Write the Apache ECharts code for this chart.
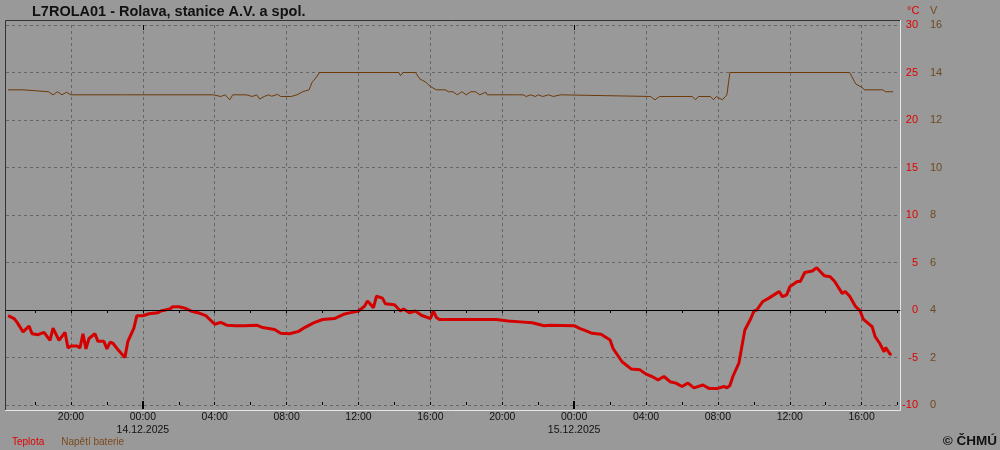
<!DOCTYPE html>
<html>
<head>
<meta charset="utf-8">
<title>L7ROLA01 - Rolava</title>
<script src="https://cdn.jsdelivr.net/npm/echarts@6/dist/echarts.min.js"></script>
<style>
  html, body { margin: 0; padding: 0; background: #999999; }
  #chart { width: 1000px; height: 450px; }
</style>
</head>
<body>
<div id="chart"></div>
<script>
// teplota (°C)
const tempTimes = [
  '2025-12-13 16:30', '2025-12-13 16:50', '2025-12-13 17:00', '2025-12-13 17:20', '2025-12-13 17:40',
  '2025-12-13 17:50', '2025-12-13 18:10', '2025-12-13 18:30', '2025-12-13 18:50', '2025-12-13 19:00',
  '2025-12-13 19:20', '2025-12-13 19:40', '2025-12-13 19:50', '2025-12-13 20:00', '2025-12-13 20:20',
  '2025-12-13 20:30', '2025-12-13 20:40', '2025-12-13 20:50', '2025-12-13 21:00', '2025-12-13 21:20',
  '2025-12-13 21:30', '2025-12-13 21:50', '2025-12-13 22:00', '2025-12-13 22:10', '2025-12-13 22:20',
  '2025-12-13 22:40', '2025-12-13 23:00', '2025-12-13 23:10', '2025-12-13 23:30', '2025-12-13 23:40',
  '2025-12-14 00:00', '2025-12-14 00:20', '2025-12-14 00:50', '2025-12-14 01:00', '2025-12-14 01:30',
  '2025-12-14 01:40', '2025-12-14 02:00', '2025-12-14 02:20', '2025-12-14 02:40', '2025-12-14 03:10',
  '2025-12-14 03:30', '2025-12-14 04:00', '2025-12-14 04:20', '2025-12-14 04:40', '2025-12-14 05:10',
  '2025-12-14 05:40', '2025-12-14 06:20', '2025-12-14 06:40', '2025-12-14 07:20', '2025-12-14 07:40',
  '2025-12-14 08:10', '2025-12-14 08:40', '2025-12-14 09:00', '2025-12-14 09:30', '2025-12-14 10:00',
  '2025-12-14 10:40', '2025-12-14 11:10', '2025-12-14 11:30', '2025-12-14 12:00', '2025-12-14 12:20',
  '2025-12-14 12:30', '2025-12-14 12:50', '2025-12-14 13:00', '2025-12-14 13:20', '2025-12-14 13:30',
  '2025-12-14 14:00', '2025-12-14 14:20', '2025-12-14 14:30', '2025-12-14 14:50', '2025-12-14 15:10',
  '2025-12-14 15:30', '2025-12-14 16:00', '2025-12-14 16:10', '2025-12-14 16:20', '2025-12-14 16:30',
  '2025-12-14 18:00', '2025-12-14 19:40', '2025-12-14 20:20', '2025-12-14 21:00', '2025-12-14 21:40',
  '2025-12-14 22:20', '2025-12-14 22:40', '2025-12-15 00:00', '2025-12-15 00:20', '2025-12-15 00:40',
  '2025-12-15 01:00', '2025-12-15 01:30', '2025-12-15 02:00', '2025-12-15 02:10', '2025-12-15 02:40',
  '2025-12-15 03:10', '2025-12-15 03:40', '2025-12-15 04:00', '2025-12-15 04:20', '2025-12-15 04:40',
  '2025-12-15 05:00', '2025-12-15 05:20', '2025-12-15 05:40', '2025-12-15 06:00', '2025-12-15 06:20',
  '2025-12-15 06:40', '2025-12-15 07:10', '2025-12-15 07:30', '2025-12-15 08:00', '2025-12-15 08:20',
  '2025-12-15 08:30', '2025-12-15 08:40', '2025-12-15 08:50', '2025-12-15 09:10', '2025-12-15 09:20',
  '2025-12-15 09:30', '2025-12-15 09:50', '2025-12-15 10:00', '2025-12-15 10:10', '2025-12-15 10:30',
  '2025-12-15 10:50', '2025-12-15 11:15', '2025-12-15 11:25', '2025-12-15 11:35', '2025-12-15 11:50',
  '2025-12-15 12:00', '2025-12-15 12:25', '2025-12-15 12:35', '2025-12-15 12:50', '2025-12-15 13:15',
  '2025-12-15 13:30', '2025-12-15 13:55', '2025-12-15 14:15', '2025-12-15 14:30', '2025-12-15 14:55',
  '2025-12-15 15:05', '2025-12-15 15:20', '2025-12-15 15:40', '2025-12-15 15:55', '2025-12-15 16:05',
  '2025-12-15 16:35', '2025-12-15 16:45', '2025-12-15 17:00', '2025-12-15 17:15', '2025-12-15 17:20',
  '2025-12-15 17:35', '2025-12-15 17:40'
];
const tempValues = [
  -0.6, -0.9, -1.3, -2.3, -1.7,
  -2.5, -2.6, -2.35, -3.2, -1.9,
  -3.2, -2.35, -4.0, -3.8, -3.8,
  -4.0, -2.5, -4.1, -3.0, -2.5,
  -3.3, -3.3, -4.1, -3.4, -3.5,
  -4.3, -5.0, -3.3, -1.9, -0.6,
  -0.6, -0.4, -0.3, -0.1, 0.1,
  0.35, 0.35, 0.2, -0.1, -0.35,
  -0.6, -1.5, -1.3, -1.6, -1.65,
  -1.65, -1.6, -1.85, -2.05, -2.45,
  -2.5, -2.25, -1.85, -1.35, -1.0,
  -0.9, -0.45, -0.3, -0.1, 0.4,
  0.95, 0.25, 1.45, 1.25, 0.65,
  0.55, -0.1, 0.1, -0.3, -0.1,
  -0.55, -0.9, -0.1, -0.8, -1.0,
  -1.0, -1.0, -1.15, -1.25, -1.35,
  -1.65, -1.6, -1.65, -1.95, -2.2,
  -2.45, -2.55, -3.15, -4.05, -5.45,
  -6.2, -6.3, -6.75, -7.0, -7.35,
  -7.0, -7.55, -7.7, -8.05, -7.7,
  -8.2, -7.9, -8.25, -8.25, -8.05,
  -8.2, -7.95, -7.0, -5.6, -3.85,
  -2.1, -0.9, -0.1, 0.0, 0.9,
  1.25, 1.75, 1.95, 1.4, 1.6,
  2.45, 3.0, 3.0, 3.95, 4.1,
  4.45, 3.6, 3.5, 3.0, 1.75,
  1.95, 1.45, 0.35, -0.1, -0.95,
  -1.75, -2.8, -3.5, -4.4, -3.95,
  -4.65, -4.7
];

// napětí baterie (V)
const voltTimes = [
  '2025-12-13 16:30', '2025-12-13 17:20', '2025-12-13 17:25', '2025-12-13 18:45', '2025-12-13 19:00',
  '2025-12-13 19:15', '2025-12-13 19:30', '2025-12-13 19:45', '2025-12-13 20:00', '2025-12-13 22:30',
  '2025-12-13 22:35', '2025-12-13 22:45', '2025-12-13 23:05', '2025-12-13 23:10', '2025-12-13 23:20',
  '2025-12-14 03:55', '2025-12-14 04:20', '2025-12-14 04:35', '2025-12-14 04:50', '2025-12-14 05:00',
  '2025-12-14 05:45', '2025-12-14 06:05', '2025-12-14 06:20', '2025-12-14 06:30', '2025-12-14 06:45',
  '2025-12-14 07:00', '2025-12-14 07:10', '2025-12-14 07:30', '2025-12-14 07:40', '2025-12-14 08:15',
  '2025-12-14 08:35', '2025-12-14 08:55', '2025-12-14 09:15', '2025-12-14 09:25', '2025-12-14 09:35',
  '2025-12-14 09:50', '2025-12-14 14:15', '2025-12-14 14:20', '2025-12-14 14:30', '2025-12-14 15:10',
  '2025-12-14 15:25', '2025-12-14 15:45', '2025-12-14 16:00', '2025-12-14 16:20', '2025-12-14 16:50',
  '2025-12-14 17:00', '2025-12-14 17:15', '2025-12-14 17:30', '2025-12-14 17:45', '2025-12-14 18:00',
  '2025-12-14 18:15', '2025-12-14 18:30', '2025-12-14 18:45', '2025-12-14 19:05', '2025-12-14 19:10',
  '2025-12-14 20:35', '2025-12-14 20:40', '2025-12-14 20:50', '2025-12-14 21:10', '2025-12-14 21:20',
  '2025-12-14 21:35', '2025-12-14 21:50', '2025-12-14 22:00', '2025-12-14 22:15', '2025-12-14 22:35',
  '2025-12-14 22:50', '2025-12-14 23:15', '2025-12-14 23:20', '2025-12-15 04:15', '2025-12-15 04:30',
  '2025-12-15 04:45', '2025-12-15 06:35', '2025-12-15 06:45', '2025-12-15 06:55', '2025-12-15 07:35',
  '2025-12-15 07:45', '2025-12-15 07:55', '2025-12-15 08:15', '2025-12-15 08:30', '2025-12-15 08:40',
  '2025-12-15 15:20', '2025-12-15 15:40', '2025-12-15 16:00', '2025-12-15 16:10', '2025-12-15 17:10',
  '2025-12-15 17:20', '2025-12-15 17:45'
];
const voltValues = [
  13.27, 13.27, 13.19, 13.19, 13.06,
  13.19, 13.06, 13.17, 13.06, 13.06,
  12.99, 13.06, 13.06, 12.99, 13.06,
  13.06, 12.99, 13.06, 12.85, 13.06,
  13.06, 12.99, 13.06, 12.88, 12.99,
  13.06, 13.0, 13.08, 12.99, 12.99,
  13.06, 13.2, 13.27, 13.59, 13.73,
  14.0, 14.0, 13.87, 14.0, 14.0,
  13.73, 13.59, 13.41, 13.27, 13.27,
  13.19, 13.19, 13.06, 13.19, 13.06,
  13.19, 13.19, 13.06, 13.17, 13.06,
  13.06, 12.99, 13.06, 13.06, 12.99,
  13.06, 12.99, 13.06, 12.99, 13.06,
  12.99, 13.06, 12.99, 12.99, 12.85,
  12.99, 12.99, 12.85, 12.99, 12.99,
  12.85, 12.99, 12.85, 13.06, 14.0,
  14.0, 13.52, 13.38, 13.27, 13.27,
  13.19, 13.19
];

// osa x: rozsah, popisky (po 4 h), značky (po 2 h), půlnoci
const xMin = '2025-12-13 16:23';
const xMax = '2025-12-15 18:08';
const labelTimes = [
  '2025-12-13 20:00', '2025-12-14 00:00', '2025-12-14 04:00', '2025-12-14 08:00',
  '2025-12-14 12:00', '2025-12-14 16:00', '2025-12-14 20:00', '2025-12-15 00:00',
  '2025-12-15 04:00', '2025-12-15 08:00', '2025-12-15 12:00', '2025-12-15 16:00'
];
const tickTimes = [
  '2025-12-13 18:00', '2025-12-13 20:00', '2025-12-13 22:00', '2025-12-14 00:00',
  '2025-12-14 02:00', '2025-12-14 04:00', '2025-12-14 06:00', '2025-12-14 08:00',
  '2025-12-14 10:00', '2025-12-14 12:00', '2025-12-14 14:00', '2025-12-14 16:00',
  '2025-12-14 18:00', '2025-12-14 20:00', '2025-12-14 22:00', '2025-12-15 00:00',
  '2025-12-15 02:00', '2025-12-15 04:00', '2025-12-15 06:00', '2025-12-15 08:00',
  '2025-12-15 10:00', '2025-12-15 12:00', '2025-12-15 14:00', '2025-12-15 16:00',
  '2025-12-15 18:00'
];
const dayTimes = ['2025-12-14 00:00', '2025-12-15 00:00'];

// osy y
const tempMin = -10, tempMax = 30, tempStep = 5;
const voltMin = 0, voltMax = 16, voltStep = 2;

const FONT = 'Liberation Sans, Arial, sans-serif';
const RED = '#d40000';
const BROWN = '#6e3a08';

const ts = s => new Date(s.replace(' ', 'T')).getTime();
const pad = n => String(n).padStart(2, '0');

function fmtLabel(v) {
  const d = new Date(v);
  let s = pad(d.getHours()) + ':' + pad(d.getMinutes());
  if (d.getHours() === 0 && d.getMinutes() === 0) {
    s += '\n' + pad(d.getDate()) + '.' + pad(d.getMonth() + 1) + '.' + d.getFullYear();
  }
  return s;
}

const tempData = tempTimes.map((t, i) => [ts(t), tempValues[i]]);
const voltData = voltTimes.map((t, i) => [ts(t), voltValues[i]]);
const labelVals = labelTimes.map(ts);
const tickVals = tickTimes.map(ts);
const dayVals = dayTimes.map(ts);

const chart = echarts.init(document.getElementById('chart'));

// osa x jako číselná (ms), popisky přes formatter
const xBase = { type: 'value', min: ts(xMin), max: ts(xMax), scale: true };
const hidden = { axisLine: { show: false }, axisLabel: { show: false }, splitLine: { show: false } };

const option = {
  animation: false,
  backgroundColor: '#999999',
  textStyle: { fontFamily: FONT },
  title: {
    text: 'L7ROLA01 - Rolava, stanice A.V. a spol.',
    left: 32,
    top: 4,
    padding: 0,
    textStyle: { fontSize: 14.5, fontWeight: 'bold', color: '#111', fontFamily: FONT }
  },
  legend: {
    left: 2,
    top: 432,
    icon: 'none',
    itemWidth: 0,
    itemHeight: 0,
    itemGap: 12,
    selectedMode: false,
    data: [
      { name: 'Teplota', textStyle: { color: '#e00000' } },
      { name: 'Napětí baterie', textStyle: { color: '#7a4a1c' } }
    ],
    textStyle: { fontSize: 10, fontFamily: FONT }
  },
  grid: { left: 6, right: 100, top: 25, bottom: 45 },
  xAxis: [
    {
      ...xBase,
      position: 'bottom',
      axisLine: { show: true, lineStyle: { color: '#000', width: 1 } },
      axisTick: { show: true, customValues: tickVals, length: 3, lineStyle: { color: '#000' } },
      axisLabel: {
        customValues: labelVals, formatter: fmtLabel, color: '#111',
        fontSize: 10.5, fontFamily: FONT, margin: 6, lineHeight: 13
      },
      splitLine: { show: false }
    },
    // značky dovnitř
    {
      ...xBase, ...hidden, position: 'bottom',
      axisTick: { show: true, customValues: tickVals, inside: true, length: 3, lineStyle: { color: '#000' } }
    },
    // svislá mřížka po 4 h
    {
      ...xBase, position: 'bottom',
      axisLine: { show: false }, axisLabel: { show: false },
      axisTick: { show: false, customValues: labelVals },
      splitLine: { show: true, lineStyle: { color: '#666', type: [3, 3], width: 1 } }
    },
    // půlnoc - silnější značky
    {
      ...xBase, ...hidden, position: 'bottom',
      axisTick: { show: true, customValues: dayVals, length: 4, lineStyle: { color: '#000', width: 2 } }
    },
    {
      ...xBase, ...hidden, position: 'bottom',
      axisTick: { show: true, customValues: dayVals, inside: true, length: 4, lineStyle: { color: '#000', width: 2 } }
    },
    {
      ...xBase, ...hidden, position: 'top',
      axisTick: { show: true, customValues: dayVals, inside: true, length: 5, lineStyle: { color: '#000', width: 1 } }
    }
  ],
  yAxis: [
    {
      type: 'value', position: 'right',
      min: tempMin, max: tempMax, interval: tempStep,
      axisLine: { show: false }, axisTick: { show: false },
      axisLabel: { color: '#e00000', fontSize: 11, fontFamily: FONT, align: 'right', margin: 18 },
      splitLine: { show: true, lineStyle: { color: '#666', type: [3, 3], width: 1 } }
    },
    {
      type: 'value', position: 'right',
      min: voltMin, max: voltMax, interval: voltStep,
      axisLine: { show: false }, axisTick: { show: false },
      axisLabel: { color: '#6b4a1f', fontSize: 11, fontFamily: FONT, align: 'left', margin: 30 },
      splitLine: { show: false }
    }
  ],
  graphic: [
    // rámeček
    { type: 'polyline', shape: { points: [[5.5, 410], [5.5, 20.5], [900, 20.5]] }, style: { stroke: '#333', lineWidth: 1, fill: null }, silent: true },
    { type: 'polyline', shape: { points: [[5, 410.5], [900.5, 410.5], [900.5, 20]] }, style: { stroke: '#e6e6e6', lineWidth: 1, fill: null }, silent: true },
    { type: 'text', left: 907, top: 5, style: { text: '°C', fill: '#e00000', font: '11px ' + FONT } },
    { type: 'text', left: 930, top: 5, style: { text: 'V', fill: '#7a4a1c', font: '11px ' + FONT } },
    { type: 'text', right: 3, top: 434, style: { text: '© ČHMÚ', fill: '#111', font: 'bold 13.5px ' + FONT } }
  ],
  series: [
    {
      name: 'Teplota',
      type: 'line',
      yAxisIndex: 0,
      data: tempData,
      showSymbol: false,
      z: 3,
      lineStyle: { color: RED, width: 3 },
      itemStyle: { color: RED },
      markLine: {
        silent: true,
        symbol: ['none', 'none'],
        label: { show: false },
        lineStyle: { color: '#000', type: 'solid', width: 1 },
        data: [{ yAxis: 0 }]
      }
    },
    {
      name: 'Napětí baterie',
      type: 'line',
      yAxisIndex: 1,
      data: voltData,
      showSymbol: false,
      z: 2,
      lineStyle: { color: BROWN, width: 1 },
      itemStyle: { color: BROWN }
    }
  ]
};

chart.setOption(option);
</script>
</body>
</html>
